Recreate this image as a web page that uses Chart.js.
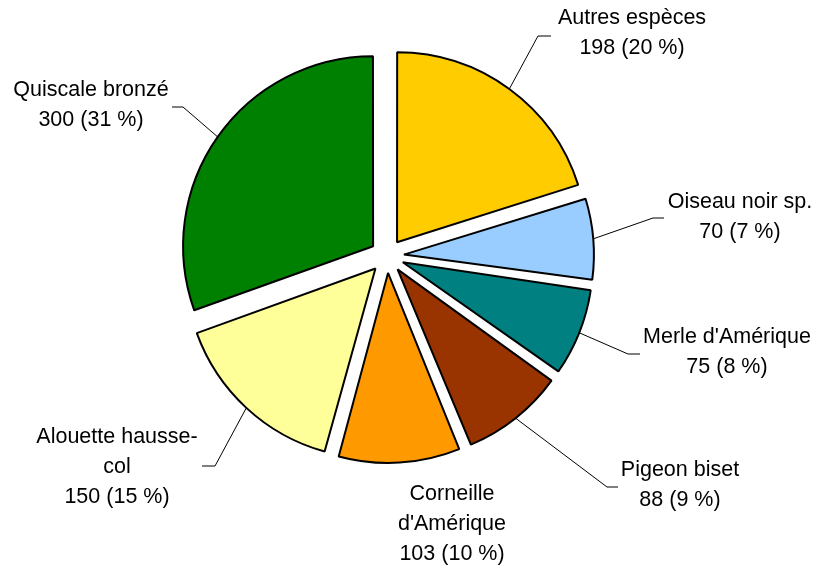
<!DOCTYPE html>
<html>
<head>
<meta charset="utf-8">
<script src="https://cdn.jsdelivr.net/npm/chart.js@4.4.1/dist/chart.umd.min.js"></script>
<style>
  html, body { margin: 0; padding: 0; background: #fff; }
  #wrap { width: 817px; height: 567px; }
</style>
</head>
<body>
<div id="wrap"><canvas id="pie" width="817" height="567"></canvas></div>
<script>
// --- data ---
const categories = [
  ['Autres espèces'],
  ['Oiseau noir sp.'],
  ["Merle d'Amérique"],
  ['Pigeon biset'],
  ['Corneille', "d'Amérique"],
  ['Alouette hausse-', 'col'],
  ['Quiscale bronzé']
];
const counts   = [198, 70, 75, 88, 103, 150, 300];
const percents = [20, 7, 8, 9, 10, 15, 31];
const colors   = ['#FFCC00', '#99CCFF', '#008080', '#993300', '#FF9900', '#FFFF99', '#008000'];

// label placement (text centre x, first line y, leader elbow, leader end x)
const labelLayout = [
  { x: 632, y: 18,  elbow: [538, 36],  endX: 551 },
  { x: 740, y: 202, elbow: [653, 218], endX: 664 },
  { x: 727, y: 337, elbow: [628, 354], endX: 640 },
  { x: 680, y: 470, elbow: [607, 487], endX: 618 },
  { x: 452, y: 494, elbow: null,       endX: null },
  { x: 117, y: 437, elbow: [215, 466], endX: 202 },
  { x: 91,  y: 90,  elbow: [183, 107], endX: 172 }
];

const RADIUS = 190;
const OFFSET = 68;          // chart.js translates arcs by offset/4
const LINE_H = 30;
const FONT = '21.5px "Liberation Sans", Arial, sans-serif';

// chart.js grows small exploded slices; keep every slice the same radius
const sameRadius = {
  id: 'sameRadius',
  beforeDatasetsDraw(chart) {
    const d = OFFSET / 4;
    chart.getDatasetMeta(0).data.forEach(arc => {
      const circ = arc.endAngle - arc.startAngle;
      const fix = 1 - Math.sin(Math.min(Math.PI, circ));
      arc.outerRadius = RADIUS - d * fix;
    });
  }
};

const sliceLabels = {
  id: 'sliceLabels',
  afterDatasetsDraw(chart) {
    const ctx = chart.ctx;
    const d = OFFSET / 4;
    ctx.save();
    chart.getDatasetMeta(0).data.forEach((arc, i) => {
      const lay = labelLayout[i];
      const mid = (arc.startAngle + arc.endAngle) / 2;
      if (lay.elbow) {
        const sx = arc.x + Math.cos(mid) * (d + RADIUS);
        const sy = arc.y + Math.sin(mid) * (d + RADIUS);
        ctx.beginPath();
        ctx.moveTo(sx, sy);
        ctx.lineTo(lay.elbow[0], lay.elbow[1]);
        ctx.lineTo(lay.endX, lay.elbow[1]);
        ctx.strokeStyle = '#000';
        ctx.lineWidth = 1;
        ctx.stroke();
      }
      const lines = categories[i].concat([counts[i] + ' (' + percents[i] + ' %)']);
      ctx.fillStyle = '#000';
      ctx.font = FONT;
      ctx.textAlign = 'center';
      ctx.textBaseline = 'middle';
      lines.forEach((t, k) => ctx.fillText(t, lay.x, lay.y + k * LINE_H));
    });
    ctx.restore();
  }
};

new Chart(document.getElementById('pie'), {
  type: 'pie',
  data: {
    labels: categories,
    datasets: [{
      data: counts,
      backgroundColor: colors,
      borderColor: '#000',
      borderWidth: 2,
      offset: OFFSET
    }]
  },
  options: {
    responsive: false,
    animation: false,
    events: [],
    radius: RADIUS,
    layout: { padding: { left: 0, right: 43, top: 0, bottom: 55 } },
    plugins: { legend: { display: false }, tooltip: { enabled: false } }
  },
  plugins: [sameRadius, sliceLabels]
});
</script>
</body>
</html>
